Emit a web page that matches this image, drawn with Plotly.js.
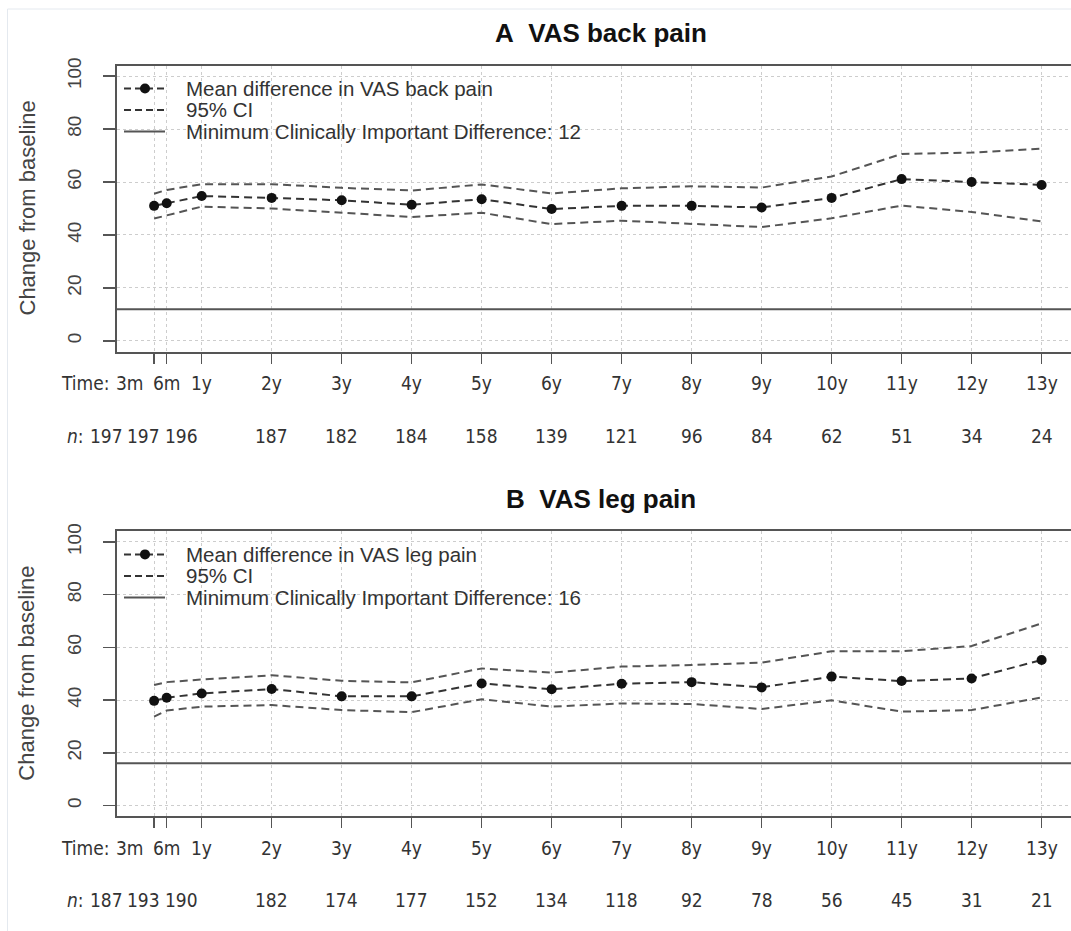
<!DOCTYPE html>
<html><head><meta charset="utf-8">
<script src="https://cdn.plot.ly/plotly-3.0.1.min.js"></script>
<style>html,body{margin:0;padding:0;background:#fff;overflow:hidden}#chart{width:1071px;height:931px}</style>
</head><body><div id="chart"></div>
<script>
// ---- data ----
const timeLabels = ['3m','6m','1y','2y','3y','4y','5y','6y','7y','8y','9y','10y','11y','12y','13y'];
const timeYears  = [0.32, 0.5, 1, 2, 3, 4, 5, 6, 7, 8, 9, 10, 11, 12, 13];
const yTicks = [0, 20, 40, 60, 80, 100];

const backMean  = [51.0, 52.0, 54.7, 54.0, 53.1, 51.4, 53.5, 49.8, 51.0, 51.0, 50.4, 54.0, 61.1, 60.0, 58.9];
const backUpper = [55.6, 57.0, 59.2, 59.2, 57.8, 56.8, 59.1, 55.7, 57.6, 58.4, 57.9, 62.1, 70.6, 71.1, 72.6];
const backLower = [46.2, 47.4, 50.7, 50.0, 48.4, 46.8, 48.4, 44.1, 45.4, 44.3, 43.0, 46.3, 51.1, 48.7, 45.1];
const backN     = [197, 197, 196, 187, 182, 184, 158, 139, 121, 96, 84, 62, 51, 34, 24];
const backMCID  = 12;

const legMean  = [39.7, 40.9, 42.5, 44.2, 41.4, 41.4, 46.3, 44.1, 46.2, 46.8, 44.8, 48.9, 47.2, 48.2, 55.2];
const legUpper = [45.7, 46.8, 47.8, 49.4, 47.3, 46.7, 52.0, 50.4, 52.7, 53.3, 54.2, 58.5, 58.5, 60.5, 69.1];
const legLower = [33.7, 36.0, 37.5, 38.1, 36.2, 35.4, 40.3, 37.5, 38.7, 38.5, 36.6, 39.9, 35.6, 36.2, 41.0];
const legN     = [187, 193, 190, 182, 174, 177, 152, 134, 118, 92, 78, 56, 45, 31, 21];
const legMCID  = 16;

// ---- layout helpers ----
const W = 1071, H = 931;
const px = x => x / W;
const py = y => 1 - y / H;
const GRID = '#cdcdcd', AX = '#555555', TXT = '#333333';
const ARIAL = 'Arial, Liberation Sans, sans-serif';
const TICKFONT = 'DejaVu Sans Condensed, DejaVu Sans, sans-serif';
const TICKSIZE = 19;
// label offsets (px) for the crowded first ticks, R-style
const timeShift = [-24, 0, 0];
const nShift = [-48, -23, -20];

const panels = [
  {key: '', title: 'A\u00a0\u00a0VAS back pain', mean: backMean, upper: backUpper, lower: backLower,
   n: backN, mcid: backMCID, label: 'Mean difference in VAS back pain', top: 65.5, bottom: 351.5},
  {key: '2', title: 'B\u00a0\u00a0VAS leg pain', mean: legMean, upper: legUpper, lower: legLower,
   n: legN, mcid: legMCID, label: 'Mean difference in VAS leg pain', top: 531.4, bottom: 816}
];

const traces = [], shapes = [], annotations = [];
const layout = {
  width: W, height: H, autosize: false,
  margin: {l: 0, r: 0, t: 0, b: 0},
  paper_bgcolor: '#ffffff', plot_bgcolor: '#ffffff',
  showlegend: false,
  font: {family: ARIAL, color: TXT}
};

panels.forEach(p => {
  const xa = 'x' + p.key, ya = 'y' + p.key;
  const dash = '8px,5px';
  traces.push({x: timeYears, y: p.lower, xaxis: xa, yaxis: ya, mode: 'lines', name: '95% CI',
    line: {color: '#555', width: 2, dash: dash}, hoverinfo: 'skip'});
  traces.push({x: timeYears, y: p.upper, xaxis: xa, yaxis: ya, mode: 'lines', name: '95% CI',
    line: {color: '#555', width: 2, dash: dash}, hoverinfo: 'skip'});
  traces.push({x: timeYears, y: p.mean, xaxis: xa, yaxis: ya, mode: 'lines+markers', name: p.label,
    line: {color: '#333', width: 2, dash: dash}, marker: {color: '#111', size: 10}});

  layout['xaxis' + p.key] = {
    domain: [px(117), 1], range: [-0.21, 13.42], anchor: ya,
    tickvals: timeYears, showticklabels: false,
    ticks: 'outside', ticklen: 10, tickwidth: 1.5, tickcolor: AX,
    showgrid: true, gridcolor: GRID, griddash: 'dot', gridwidth: 1,
    showline: true, linecolor: AX, linewidth: 2, mirror: true, zeroline: false
  };
  layout['yaxis' + p.key] = {
    domain: [py(p.bottom), py(p.top)], range: [-4, 104], anchor: xa,
    tickvals: yTicks, tickangle: -90, ticklabelstandoff: 14,
    tickfont: {family: ARIAL, size: 19, color: '#444'},
    ticks: 'outside', ticklen: 12, tickwidth: 1.5, tickcolor: AX,
    showgrid: true, gridcolor: GRID, griddash: 'dot', gridwidth: 1,
    showline: true, linecolor: AX, linewidth: 2, mirror: false, zeroline: false
  };

  // MCID reference line
  shapes.push({type: 'line', xref: xa + ' domain', x0: 0, x1: 1, yref: ya, y0: p.mcid, y1: p.mcid,
    line: {color: AX, width: 2}});

  // title
  annotations.push({text: '<b>' + p.title + '</b>', xref: 'paper', yref: 'paper',
    x: px(601), y: py(p.top - 32.5), xanchor: 'center', yanchor: 'middle', showarrow: false,
    font: {family: ARIAL, size: 26, color: '#111'}});
  // y-axis title
  annotations.push({text: 'Change from baseline', xref: 'paper', yref: 'paper', textangle: -90,
    x: px(27), y: py((p.top + p.bottom) / 2), xanchor: 'center', yanchor: 'middle', showarrow: false,
    font: {family: ARIAL, size: 22, color: '#444'}});

  // legend (drawn manually to match R's tight spacing)
  const rows = [p.label, '95% CI', 'Minimum Clinically Important Difference: ' + p.mcid];
  rows.forEach((t, i) => {
    const yy = p.top + 23 + i * 21.5;
    annotations.push({text: t, xref: 'paper', yref: 'paper', x: px(185), y: py(yy),
      xanchor: 'left', yanchor: 'middle', showarrow: false, borderpad: 0,
      font: {family: ARIAL, size: 20.5, color: TXT}});
    shapes.push({type: 'line', xref: 'paper', yref: 'paper', x0: px(124), x1: px(165),
      y0: py(yy), y1: py(yy),
      line: {color: i === 2 ? AX : '#333', width: 2, dash: i === 2 ? 'solid' : '7px,4px'}});
  });
  const my = p.top + 23;
  shapes.push({type: 'circle', xref: 'paper', yref: 'paper', x0: px(140), x1: px(150),
    y0: py(my + 5), y1: py(my - 5), fillcolor: '#111', line: {color: '#111', width: 0}});

  // x labels: time and n rows
  const ty = py(p.bottom + 32), ny = py(p.bottom + 84);
  annotations.push({text: 'Time:', xref: 'paper', yref: 'paper', x: px(112), y: ty,
    xanchor: 'right', yanchor: 'middle', showarrow: false, font: {family: TICKFONT, size: TICKSIZE, color: TXT}});
  annotations.push({text: '<i>n</i>:', xref: 'paper', yref: 'paper', x: px(86), y: ny,
    xanchor: 'right', yanchor: 'middle', showarrow: false, font: {family: TICKFONT, size: TICKSIZE, color: TXT}});
  timeYears.forEach((t, i) => {
    annotations.push({text: timeLabels[i], xref: xa, yref: 'paper', x: t, y: ty,
      xanchor: 'center', yanchor: 'middle', xshift: timeShift[i] || 0, showarrow: false,
      font: {family: TICKFONT, size: TICKSIZE, color: TXT}});
    annotations.push({text: String(p.n[i]), xref: xa, yref: 'paper', x: t, y: ny,
      xanchor: 'center', yanchor: 'middle', xshift: nShift[i] || 0, showarrow: false,
      font: {family: TICKFONT, size: TICKSIZE, color: TXT}});
  });
});

// faint page border of the original figure
shapes.push({type: 'rect', xref: 'paper', yref: 'paper', x0: px(7.5), x1: 1.01, y0: -0.01, y1: py(9),
  line: {color: '#e4e9ef', width: 1}, layer: 'below'});

layout.shapes = shapes;
layout.annotations = annotations;

Plotly.newPlot('chart', traces, layout, {displayModeBar: false, staticPlot: true});
</script>
</body></html>
